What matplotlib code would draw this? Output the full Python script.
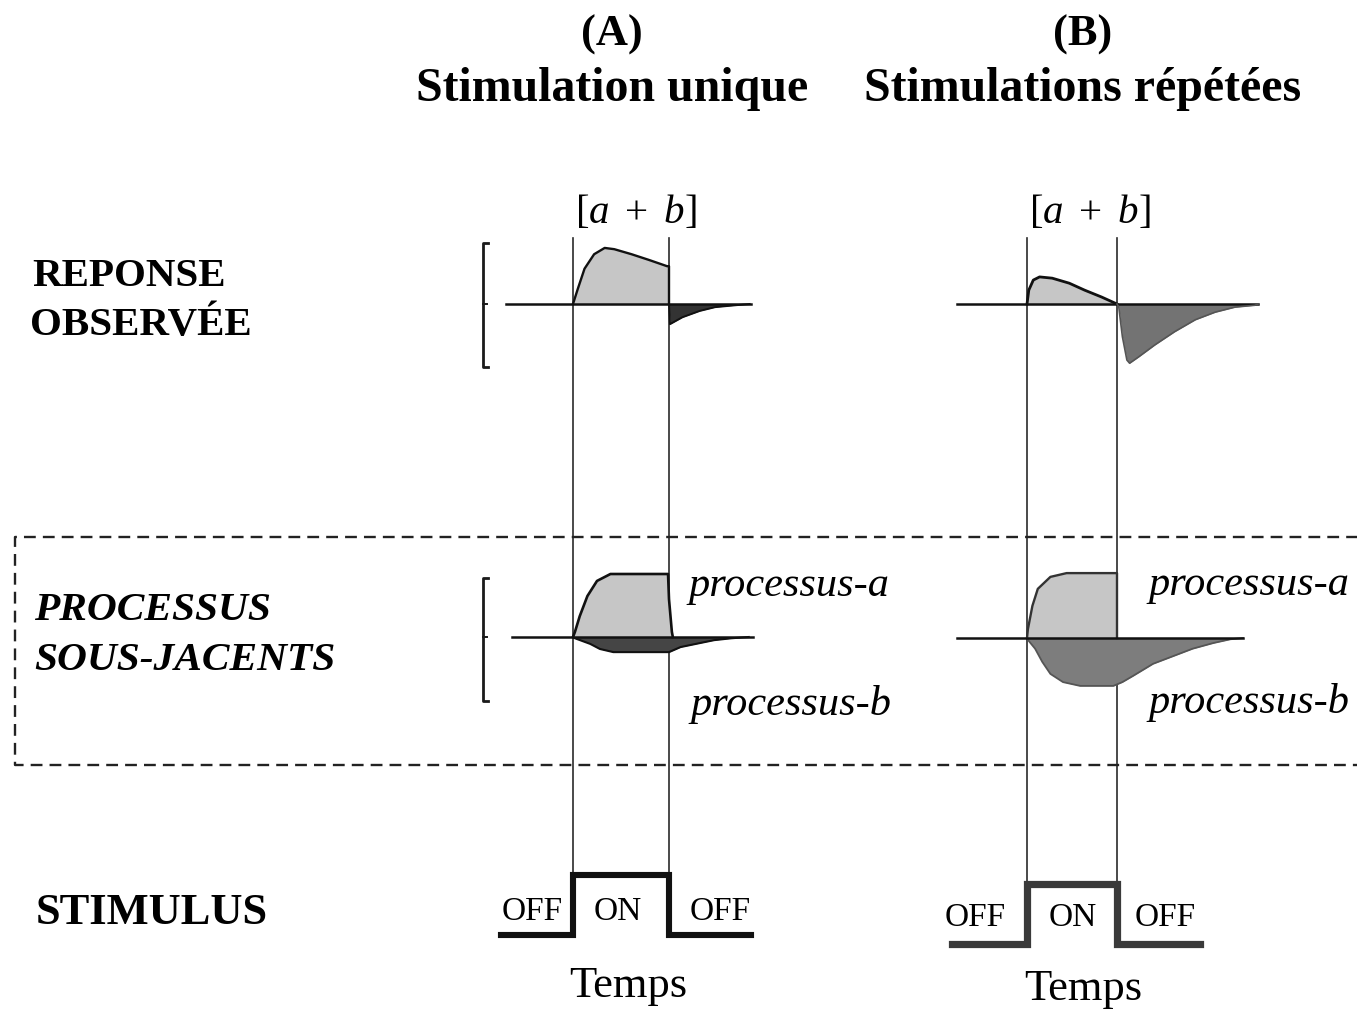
import matplotlib
matplotlib.use("Agg")
import matplotlib.pyplot as plt

plt.rcParams["mathtext.fontset"] = "custom"
plt.rcParams["mathtext.rm"] = "Liberation Serif"
plt.rcParams["mathtext.it"] = "Liberation Serif:italic"

SERIF = "Liberation Serif"
W, H = 1357, 1010

# ---------------------------------------------------------------------------
# Data: time in units of the ON period (0 = onset, 1 = offset),
# amplitude in units of the a-process plateau.
# ---------------------------------------------------------------------------

# (A) single stimulation -- observed response [a + b]
respA_pos_t = [0.00, 0.05, 0.12, 0.22, 0.33, 0.43, 0.61, 0.79, 0.98, 1.00, 1.00]
respA_pos_y = [0.00, 0.24, 0.56, 0.79, 0.89, 0.87, 0.79, 0.70, 0.60, 0.60, 0.00]
respA_neg_t = [1.00, 1.01, 1.14, 1.32, 1.48, 1.69, 1.84]
respA_neg_y = [0.00, -0.32, -0.21, -0.11, -0.05, -0.02, 0.00]
respA_base = [-0.70, 1.85]

# (A) underlying processes
procA_a_t = [0.00, 0.02, 0.07, 0.15, 0.25, 0.39, 0.53, 0.99, 1.00, 1.03, 1.04]
procA_a_y = [0.00, 0.08, 0.33, 0.65, 0.89, 1.00, 1.00, 1.00, 0.60, 0.08, 0.00]
procA_b_t = [0.00, 0.02, 0.18, 0.28, 0.42, 1.00, 1.12, 1.31, 1.47, 1.65, 1.83]
procA_b_y = [0.00, -0.02, -0.11, -0.19, -0.24, -0.24, -0.16, -0.10, -0.05, -0.02, 0.00]
procA_base = [-0.64, 1.88]

# (B) repeated stimulation -- observed response [a + b]
respB_pos_t = [0.00, 0.02, 0.07, 0.14, 0.28, 0.47, 0.64, 0.83, 1.00]
respB_pos_y = [0.00, 0.22, 0.38, 0.43, 0.41, 0.33, 0.22, 0.11, 0.00]
respB_neg_t = [1.00, 1.02, 1.06, 1.11, 1.14, 1.24, 1.42, 1.64, 1.87, 2.09, 2.31, 2.53, 2.57]
respB_neg_y = [0.00, -0.05, -0.52, -0.89, -0.94, -0.84, -0.65, -0.44, -0.25, -0.13, -0.05, -0.02, 0.00]
respB_base = [-0.78, 2.57]

# (B) underlying processes
procB_a_t = [0.00, 0.01, 0.06, 0.12, 0.26, 0.44, 0.98, 1.00, 1.00]
procB_a_y = [0.00, 0.14, 0.51, 0.78, 0.97, 1.03, 1.03, 1.03, 0.00]
procB_b_t = [0.00, 0.01, 0.09, 0.17, 0.26, 0.40, 0.59, 0.96, 1.06, 1.18, 1.40, 1.62, 1.84, 2.07, 2.26, 2.40]
procB_b_y = [0.00, -0.03, -0.17, -0.38, -0.57, -0.70, -0.76, -0.76, -0.70, -0.60, -0.41, -0.29, -0.17, -0.08, -0.02, 0.00]
procB_base = [-0.78, 2.40]

# Stimulus time courses (0 = OFF, 1 = ON)
stimA_t = [-0.75, 0.00, 0.00, 1.00, 1.00, 1.85]
stimB_t = [-0.83, 0.00, 0.00, 1.00, 1.00, 1.92]
stim_level = [0, 0, 1, 1, 0, 0]

titles = ["(A)", "(B)"]
subtitles = ["Stimulation unique", "Stimulations répétées"]
row_labels = [["REPONSE", "OBSERVÉE"], ["PROCESSUS", "SOUS-JACENTS"], ["STIMULUS"]]
stim_labels = ["OFF", "ON", "OFF"]
proc_labels = ["processus-a", "processus-b"]
sum_label = r"$[a\ +\ b]$"
time_label = "Temps"

# ---------------------------------------------------------------------------
fig = plt.figure(figsize=(W / 100, H / 100), dpi=100)

# overlay in pixel units for text and frames
ov = fig.add_axes([0, 0, 1, 1])
ov.set_xlim(0, W)
ov.set_ylim(H, 0)
ov.axis("off")


def panel(x0, y0, sx, sy):
    """Transparent full-figure axes whose origin (t=0, amp=0) sits at pixel (x0, y0)."""
    ax = fig.add_axes([0, 0, 1, 1])
    ax.set_xlim(-x0 / sx, (W - x0) / sx)
    ax.set_ylim((y0 - H) / sy, y0 / sy)
    ax.axis("off")
    ax.patch.set_alpha(0)
    return ax


LIGHT = "#c6c6c6"
EDGE = "#111111"

# column geometry: onset pixel, pixels per ON period
colA = dict(x0=573, sx=96)
colB = dict(x0=1027, sx=90)
SY = 63

# ---------------- column A ----------------
ax = panel(colA["x0"], 304, colA["sx"], SY)
ax.plot(respA_base, [0, 0], color=EDGE, lw=1.8)
ax.fill_between(respA_pos_t, 0, respA_pos_y, color=LIGHT, lw=0)
ax.plot(respA_pos_t, respA_pos_y, color=EDGE, lw=1.7)
ax.fill_between(respA_neg_t, 0, respA_neg_y, color="#333333", lw=0)
ax.plot(respA_neg_t, respA_neg_y, color=EDGE, lw=1.4)

ax = panel(colA["x0"], 637, colA["sx"], SY)
ax.fill_between(procA_a_t, 0, procA_a_y, color=LIGHT, lw=0)
ax.fill_between(procA_b_t, 0, procA_b_y, color="#454545", lw=0)
ax.plot(procA_a_t, procA_a_y, color=EDGE, lw=1.9)
ax.plot(procA_b_t, procA_b_y, color=EDGE, lw=1.5)
ax.plot(procA_base, [0, 0], color=EDGE, lw=1.8)

ax = panel(colA["x0"], 935, colA["sx"], 60)
ax.plot(stimA_t, stim_level, color="#111111", lw=4.4, solid_joinstyle="miter")

# ---------------- column B ----------------
ax = panel(colB["x0"], 304, colB["sx"], SY)
ax.plot(respB_base, [0, 0], color=EDGE, lw=1.8)
ax.fill_between(respB_pos_t, 0, respB_pos_y, color=LIGHT, lw=0)
ax.plot(respB_pos_t, respB_pos_y, color=EDGE, lw=2.0)
ax.fill_between(respB_neg_t, 0, respB_neg_y, color="#737373", lw=0)
ax.plot(respB_neg_t, respB_neg_y, color="#555555", lw=1.2)

ax = panel(colB["x0"], 638, colB["sx"], SY)
ax.fill_between(procB_a_t, 0, procB_a_y, color=LIGHT, lw=0)
ax.fill_between(procB_b_t, 0, procB_b_y, color="#7d7d7d", lw=0)
ax.plot(procB_a_t, procB_a_y, color="#333333", lw=1.7)
ax.plot(procB_b_t, procB_b_y, color="#555555", lw=1.3)
ax.plot(procB_base, [0, 0], color=EDGE, lw=1.8)

ax = panel(colB["x0"], 944, colB["sx"], 60)
ax.plot(stimB_t, stim_level, color="#3a3a3a", lw=5.2, solid_joinstyle="miter")

# ---------------- guides (pixel overlay) ----------------
for col, bottom in ((colA, 875), (colB, 884)):
    for xp in (col["x0"], col["x0"] + col["sx"]):
        ov.plot([xp, xp], [238, bottom], color="#2a2a2a", lw=1.2)

# brackets on the left of column A
for top, mid, bot in ((243, 304, 367), (578, 637, 701)):
    ov.plot([488, 483, 483, 488], [top, top, bot, bot], color="#1a1a1a", lw=2.0)
    ov.plot([483, 487], [mid, mid], color="#1a1a1a", lw=1.4)

# dashed frame around the underlying processes (open on the right)
ov.plot([W + 5, 15, 15, W + 5], [537, 537, 765, 765], color="#222222",
        lw=1.7, linestyle=(0, (5, 3)))

# ---------------- text ----------------
for xc, t, s in ((612, titles[0], subtitles[0]), (1083, titles[1], subtitles[1])):
    ov.text(xc, 35, t, ha="center", va="center", family=SERIF, weight="bold", fontsize=32)
    ov.text(xc, 89, s, ha="center", va="center", family=SERIF, weight="bold", fontsize=34.5)

for xc in (636, 1090):
    ov.text(xc, 212, sum_label, ha="center", va="center", fontsize=29.5)

ov.text(32, 276, row_labels[0][0], ha="left", va="center", family=SERIF, weight="bold", fontsize=29.5)
ov.text(30, 325, row_labels[0][1], ha="left", va="center", family=SERIF, weight="bold", fontsize=29.5)
ov.text(34, 611, row_labels[1][0], ha="left", va="center", family=SERIF, weight="bold",
        style="italic", fontsize=29.8)
ov.text(34, 660, row_labels[1][1], ha="left", va="center", family=SERIF, weight="bold",
        style="italic", fontsize=29.8)
ov.text(36, 913, row_labels[2][0], ha="left", va="center", family=SERIF, weight="bold", fontsize=32)

for x_a, y_a, x_b, y_b in ((688, 586, 690, 704), (1148, 585, 1148, 703)):
    ov.text(x_a, y_a, proc_labels[0], ha="left", va="center", family=SERIF, style="italic", fontsize=30.5)
    ov.text(x_b, y_b, proc_labels[1], ha="left", va="center", family=SERIF, style="italic", fontsize=30.5)

for xs, y in (((532, 618, 720), 912), ((975, 1073, 1165), 918)):
    for x, lab in zip(xs, stim_labels):
        ov.text(x, y, lab, ha="center", va="center", family=SERIF, fontsize=24)

ov.text(628, 986, time_label, ha="center", va="center", family=SERIF, fontsize=32)
ov.text(1083, 989, time_label, ha="center", va="center", family=SERIF, fontsize=32)

fig.savefig("out.png", dpi=100, facecolor="white")
